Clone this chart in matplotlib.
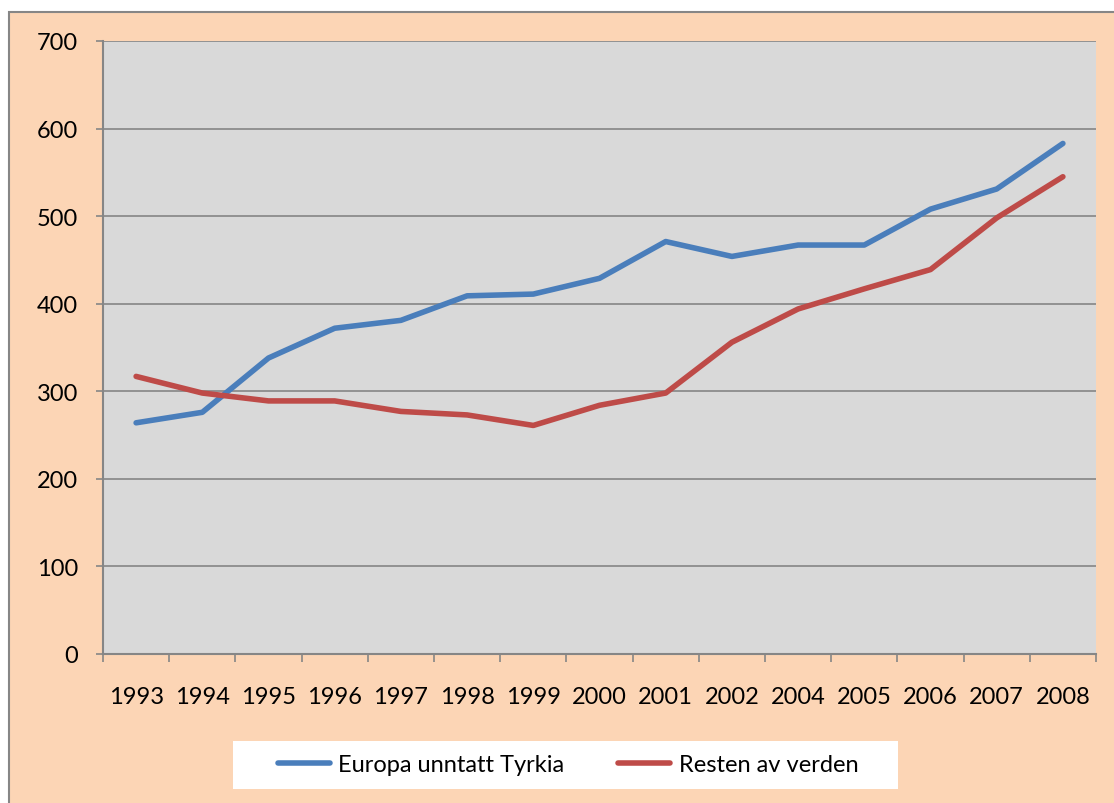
import matplotlib
matplotlib.use("Agg")
import matplotlib.pyplot as plt
from matplotlib.patches import Rectangle

years = ["1993", "1994", "1995", "1996", "1997", "1998", "1999", "2000",
         "2001", "2002", "2004", "2005", "2006", "2007", "2008"]
europa = [264, 276, 338, 372, 381, 409, 411, 429, 471, 454, 467, 467, 508, 531, 583]
resten = [317, 298, 289, 289, 277, 273, 261, 284, 298, 356, 394, 417, 439, 498, 545]
yticks = [0, 100, 200, 300, 400, 500, 600, 700]

W, H = 1114, 804
plt.rcParams['font.family'] = ['Lato', 'DejaVu Sans']
fig = plt.figure(figsize=(W / 100, H / 100), dpi=100, facecolor="white")

# peach chart area with grey border on top/left
fig.patches.append(Rectangle((9 / W, -0.2), 1.2, (H - 13) / H + 0.2, transform=fig.transFigure,
                             facecolor="#FCD5B5", edgecolor="#868686", linewidth=1.5,
                             zorder=-10))

ax = fig.add_axes([103 / W, (H - 655) / H, (1096 - 103) / W, (655 - 42) / H])
ax.set_zorder(5)
ax.set_facecolor("#D9D9D9")
x = list(range(len(years)))
ax.plot(x, europa, color="#4A7EBB", lw=4, solid_capstyle="round", solid_joinstyle="round",
        label="Europa unntatt Tyrkia", zorder=3)
ax.plot(x, resten, color="#BE4B48", lw=4, solid_capstyle="round", solid_joinstyle="round",
        label="Resten av verden", zorder=3)

ax.set_xlim(-0.5, len(years) - 0.5)
ax.set_ylim(0, 700)
ax.set_yticks(yticks)
ax.set_yticklabels([str(v) for v in yticks])
ax.yaxis.grid(True, color="#868686", lw=1.2)
ax.set_axisbelow(True)

ax.set_xticks([i - 0.5 for i in range(len(years) + 1)])
ax.set_xticklabels([])
ax.set_xticks(x, minor=True)
ax.set_xticklabels(years, minor=True)
ax.tick_params(axis="x", which="major", direction="out", length=6, width=1.2, color="#868686")
ax.tick_params(axis="x", which="minor", length=0, pad=23, labelsize=17)
ax.tick_params(axis="y", direction="out", length=5, width=1.2, color="#868686", pad=13,
               labelsize=17)

for s in ["top", "right"]:
    ax.spines[s].set_visible(False)
for s in ["left", "bottom"]:
    ax.spines[s].set_color("#868686")
    ax.spines[s].set_linewidth(1.5)

# legend box
fig.patches.append(Rectangle((233 / W, (H - 790) / H), (898 - 233) / W, 48 / H,
                             transform=fig.transFigure, facecolor="white",
                             edgecolor="none", zorder=1))
leg = fig.legend(loc="center", bbox_to_anchor=(568 / W, (H - 766) / H), ncol=2, frameon=False,
                 fontsize=17, handlelength=2.2, handletextpad=0.35, columnspacing=2.3)
leg.set_zorder(6)

fig.savefig("out.png", dpi=100, facecolor="white")
